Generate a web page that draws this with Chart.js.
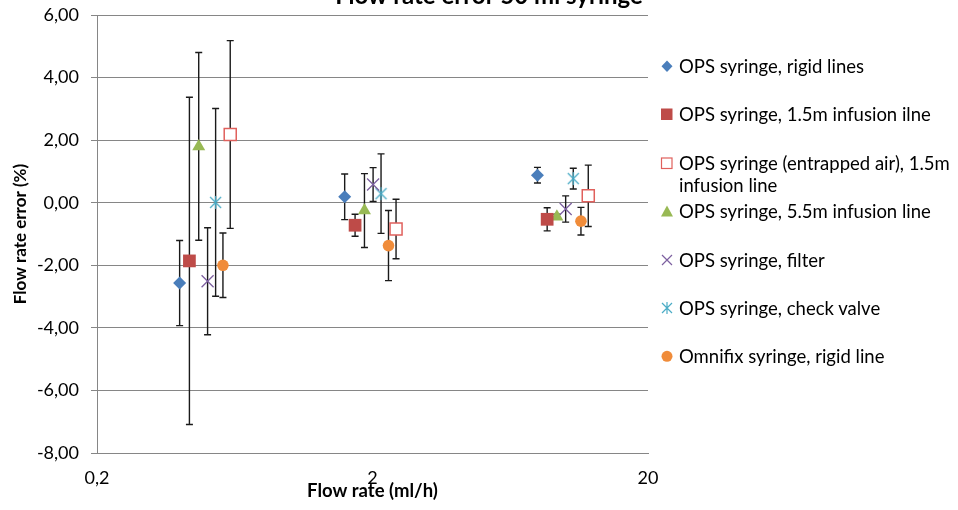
<!DOCTYPE html>
<html>
<head>
<meta charset="utf-8">
<script src="https://cdn.jsdelivr.net/npm/chart.js@4/dist/chart.umd.min.js"></script>
<style>
  html, body { margin: 0; padding: 0; background: #fff; overflow: hidden; }
  #wrap { position: relative; width: 958px; height: 510px; }
  #legend { position: absolute; left: 660px; top: 55px; font-family: Lato, sans-serif; font-size: 18.5px; color: #000; }
  .item { height: 48.4px; display: flex; align-items: flex-start; white-space: nowrap; }
  .item svg { width: 14px; height: 22.7px; margin-right: 5px; flex: none; }
  .item span { line-height: 22.7px; }
</style>
</head>
<body>
<div id="wrap">
  <canvas id="chart" width="958" height="510"></canvas>
  <div id="legend"></div>
</div>
<script>
// Flow rate error, 50 ml syringe
const chartTitle = 'Flow rate error 50 ml syringe';
const xTitle = 'Flow rate (ml/h)';
const yTitle = 'Flow rate error (%)';

const seriesLabels = [
    ['OPS syringe, rigid lines'],
    ['OPS syringe, 1.5m infusion ilne'],
    ['OPS syringe (entrapped air), 1.5m', 'infusion line'],
    ['OPS syringe, 5.5m infusion line'],
    ['OPS syringe, filter'],
    ['OPS syringe, check valve'],
    ['Omnifix syringe, rigid line']
];

// flow rate (ml/h) per series
const flowRates = [
    [0.399, 1.585, 7.94],
    [0.433, 1.729, 8.61],
    [0.609, 2.435, 12.14],
    [0.468, 1.87, 9.34],
    [0.504, 2.01, 10.05],
    [0.539, 2.148, 10.71],
    [0.573, 2.286, 11.42]
];

// mean error (%) per series
const meanErrors = [
    [-2.57, 0.19, 0.88],
    [-1.86, -0.72, -0.53],
    [2.18, -0.84, 0.22],
    [1.80, -0.25, -0.45],
    [-2.51, 0.58, -0.20],
    [0.01, 0.29, 0.77],
    [-2.00, -1.37, -0.59]
];

// error bar (+/-)
const errorBars = [
    [1.36, 0.73, 0.25],
    [5.23, 0.35, 0.37],
    [3.00, 0.95, 0.98],
    [3.00, 1.18, 0.08],
    [1.71, 0.54, 0.42],
    [3.00, 1.27, 0.33],
    [1.03, 1.12, 0.44]
];

const xTicks = [0.2, 2, 20];
const yMin = -8, yMax = 6, yStep = 2;

// asterisk marker (x with vertical bar)
function makeStar(color) {
    const c = document.createElement('canvas');
    c.width = 15; c.height = 15;
    const g = c.getContext('2d');
    g.strokeStyle = color;
    g.lineWidth = 1.3;
    g.beginPath();
    g.moveTo(2, 2); g.lineTo(13, 13);
    g.moveTo(13, 2); g.lineTo(2, 13);
    g.moveTo(7.5, 1); g.lineTo(7.5, 14);
    g.stroke();
    return c;
}

const styles = [
    { pointStyle: 'rectRot', radius: 6.5, bg: '#4A7EBB', border: '#4A7EBB', bw: 0 },
    { pointStyle: 'rect', radius: 9, bg: '#BE4B48', border: '#BE4B48', bw: 0 },
    { pointStyle: 'rect', radius: 8.5, bg: '#ffffff', border: '#E0605C', bw: 1.5 },
    { pointStyle: 'triangle', radius: 7.5, bg: '#98B954', border: '#98B954', bw: 0 },
    { pointStyle: 'crossRot', radius: 8.5, bg: '#7D60A0', border: '#7D60A0', bw: 1.3 },
    { pointStyle: makeStar('#4BACC6'), radius: 7, bg: '#4BACC6', border: '#4BACC6', bw: 1.3 },
    { pointStyle: 'circle', radius: 5.8, bg: '#F08C3A', border: '#F08C3A', bw: 0 }
];

const datasets = seriesLabels.map((lab, i) => ({
    label: lab.join(' '),
    data: flowRates[i].map((x, j) => ({ x: x, y: meanErrors[i][j] })),
    pointStyle: styles[i].pointStyle,
    pointRadius: styles[i].radius,
    pointHoverRadius: styles[i].radius,
    backgroundColor: styles[i].bg,
    borderColor: styles[i].border,
    borderWidth: styles[i].bw,
    showLine: false
}));

const errorBarPlugin = {
    id: 'errorBars',
    beforeDatasetsDraw(chart) {
        const ctx = chart.ctx;
        const xs = chart.scales.x, ys = chart.scales.y;
        ctx.save();
        ctx.strokeStyle = '#1a1a1a';
        ctx.lineWidth = 1.4;
        chart.data.datasets.forEach((ds, i) => {
            ds.data.forEach((p, j) => {
                const e = errorBars[i][j];
                const px = xs.getPixelForValue(p.x);
                const top = ys.getPixelForValue(p.y + e);
                const bot = ys.getPixelForValue(p.y - e);
                ctx.beginPath();
                ctx.moveTo(px, top); ctx.lineTo(px, bot);
                ctx.moveTo(px - 3.5, top); ctx.lineTo(px + 3.5, top);
                ctx.moveTo(px - 3.5, bot); ctx.lineTo(px + 3.5, bot);
                ctx.stroke();
            });
        });
        ctx.restore();
    }
};

const titlePlugin = {
    id: 'clippedTitle',
    afterDraw(chart) {
        const ctx = chart.ctx;
        ctx.save();
        ctx.font = 'bold 24px Lato, sans-serif';
        ctx.fillStyle = '#000';
        ctx.textAlign = 'center';
        ctx.textBaseline = 'alphabetic';
        ctx.fillText(chartTitle, 489, 4);
        ctx.restore();
    }
};

Chart.defaults.font.family = 'Lato, sans-serif';
Chart.defaults.font.size = 18;
Chart.defaults.color = '#000';

new Chart(document.getElementById('chart'), {
    type: 'scatter',
    data: { datasets: datasets },
    plugins: [errorBarPlugin, titlePlugin],
    options: {
        responsive: false,
        animation: false,
        layout: { padding: { left: 0, right: 310, top: 15, bottom: 0 } },
        plugins: { legend: { display: false }, tooltip: { enabled: false } },
        scales: {
            x: {
                type: 'logarithmic',
                min: 0.2,
                max: 20,
                afterBuildTicks: s => { s.ticks = xTicks.map(v => ({ value: v })); },
                afterFit: s => { s.height = 57; s.paddingLeft = 0; s.paddingRight = 0; },
                grid: { display: false },
                border: { display: true, color: '#868686' },
                ticks: {
                    padding: 6,
                    autoSkip: false,
                    maxRotation: 0,
                    callback: v => String(v).replace('.', ',')
                },
                title: { display: true, text: xTitle, font: { size: 18.5, weight: 'bold' }, padding: { top: 0, bottom: 8 } }
            },
            y: {
                min: yMin,
                max: yMax,
                afterFit: s => { s.width = 97; s.paddingTop = 0; s.paddingBottom = 0; },
                grid: { color: '#868686', tickLength: 6, lineWidth: 1 },
                border: { display: true, color: '#868686' },
                ticks: {
                    stepSize: yStep,
                    padding: 12,
                    callback: v => v.toFixed(2).replace('.', ',')
                },
                title: { display: true, text: yTitle, font: { size: 17, weight: 'bold' }, padding: { top: 10, bottom: 0 } }
            }
        }
    }
});

// legend
const legend = document.getElementById('legend');
function markerSvg(i) {
    const s = styles[i];
    let shape = '';
    if (i === 0) shape = '<polygon points="7,5.5 12.5,11.3 7,17 1.5,11.3" fill="' + s.bg + '"/>';
    else if (i === 1) shape = '<rect x="1" y="5.5" width="11.5" height="11.5" fill="' + s.bg + '"/>';
    else if (i === 2) shape = '<rect x="1.5" y="6" width="10.5" height="10.5" fill="#fff" stroke="' + s.border + '" stroke-width="1.2"/>';
    else if (i === 3) shape = '<polygon points="7,5.5 13,16.5 1,16.5" fill="' + s.bg + '"/>';
    else if (i === 4) shape = '<path d="M2,6 L12,16 M12,6 L2,16" stroke="' + s.border + '" stroke-width="1.2"/>';
    else if (i === 5) shape = '<path d="M2,6 L12,16 M12,6 L2,16 M7,5 L7,17" stroke="' + s.border + '" stroke-width="1.2"/>';
    else shape = '<circle cx="7" cy="11.3" r="5.5" fill="' + s.bg + '"/>';
    return '<svg viewBox="0 0 14 22.7">' + shape + '</svg>';
}
legend.innerHTML = seriesLabels.map((lab, i) =>
    '<div class="item">' + markerSvg(i) + '<span>' + lab.join('<br>') + '</span></div>'
).join('');
</script>
</body>
</html>
